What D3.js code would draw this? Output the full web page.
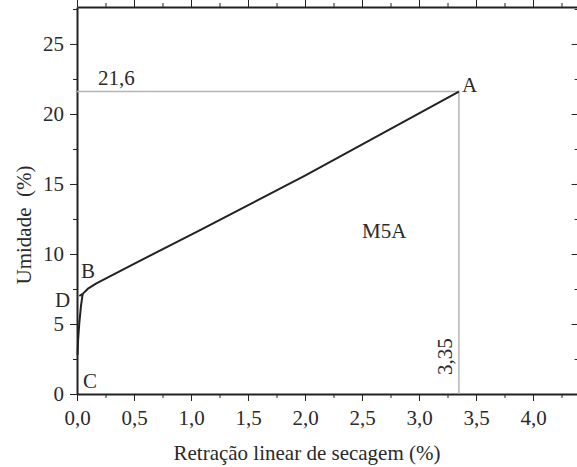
<!DOCTYPE html>
<html>
<head>
<meta charset="utf-8">
<script src="https://cdn.jsdelivr.net/npm/d3@7"></script>
<style>
  body { margin: 0; background: #fff; }
  svg text { font-family: "Liberation Serif", "Times New Roman", Times, "DejaVu Serif", serif; fill: #2a2a2a; }
  .axis path, .axis line { stroke: #222; }
</style>
</head>
<body>
<svg id="chart" width="577" height="467"></svg>
<script>
// curve data (retração %, umidade %)
var mainCurve = [[0.05, 7.15], [0.10, 7.55], [0.17, 7.9], [0.5, 9.3], [1.08, 11.7], [2.0, 15.6], [3.35, 21.6]];
var lowerCurve = [[0.005, 2.8], [0.01, 3.9], [0.02, 5.05], [0.035, 6.3], [0.05, 7.15]];
var dTail = [[0.02, 7.0], [0.05, 7.15]];
var xTicks = [0, 0.5, 1.0, 1.5, 2.0, 2.5, 3.0, 3.5, 4.0];
var yTicks = [0, 5, 10, 15, 20, 25];
var pointA = [3.35, 21.6];
var pointLabels = [
  { t: "A", x: 3.377, y: 21.57 },
  { t: "B", x: 0.035, y: 8.29 },
  { t: "D", x: -0.193, y: 6.21 },
  { t: "C", x: 0.053, y: 0.43 },
  { t: "M5A", x: 2.5, y: 11.14 }
];

var svg = d3.select("#chart");
var margin = { top: 7, left: 77, bottom: 73 };
var width = 577, height = 467;
var fs = 21;

var xScale = d3.scaleLinear().domain([0, 4.4]).range([margin.left, margin.left + 4.4 * 114]);
var yScale = d3.scaleLinear().domain([0, 27.64]).range([height - margin.bottom, margin.top]);

var fmt = function (d) { return d3.format(".1f")(d).replace(".", ","); };
var xMinor = d3.range(0.25, 4.4, 0.5);
var yMinor = d3.range(2.5, 27.6, 5);

var y0 = yScale(0), yTop = yScale(27.64), x0 = xScale(0), xRight = xScale(4.4);

// bottom axis
svg.append("g").attr("class", "axis")
  .attr("transform", "translate(0," + y0 + ")")
  .call(d3.axisBottom(xScale).tickValues(xTicks).tickSize(7).tickSizeOuter(0).tickPadding(9).tickFormat(fmt))
  .call(g => g.selectAll("text").attr("font-size", fs))
  .call(g => g.select(".domain").attr("stroke-width", 2));
svg.append("g").attr("class", "axis")
  .attr("transform", "translate(0," + y0 + ")")
  .call(d3.axisBottom(xScale).tickValues(xMinor).tickSize(4).tickFormat(""))
  .call(g => g.select(".domain").remove());

// top axis (inward)
svg.append("g").attr("class", "axis")
  .attr("transform", "translate(0," + yTop + ")")
  .call(d3.axisBottom(xScale).tickValues(xTicks).tickSize(-7).tickSizeOuter(0).tickFormat(""))
  .call(g => g.select(".domain").attr("stroke-width", 2));
svg.append("g").attr("class", "axis")
  .attr("transform", "translate(0," + yTop + ")")
  .call(d3.axisBottom(xScale).tickValues(xMinor).tickSize(-4).tickFormat(""))
  .call(g => g.select(".domain").remove());

// left axis
svg.append("g").attr("class", "axis")
  .attr("transform", "translate(" + x0 + ",0)")
  .call(d3.axisLeft(yScale).tickValues(yTicks).tickSize(7).tickSizeOuter(0).tickPadding(6))
  .call(g => g.selectAll("text").attr("font-size", fs))
  .call(g => g.select(".domain").attr("stroke-width", 2));
svg.append("g").attr("class", "axis")
  .attr("transform", "translate(" + x0 + ",0)")
  .call(d3.axisLeft(yScale).tickValues(yMinor).tickSize(4).tickFormat(""))
  .call(g => g.select(".domain").remove());

// right axis (inward)
svg.append("g").attr("class", "axis")
  .attr("transform", "translate(" + xRight + ",0)")
  .call(d3.axisLeft(yScale).tickValues(yTicks).tickSize(7).tickSizeOuter(0).tickFormat(""))
  .call(g => g.select(".domain").attr("stroke-width", 2));
svg.append("g").attr("class", "axis")
  .attr("transform", "translate(" + xRight + ",0)")
  .call(d3.axisLeft(yScale).tickValues(yMinor).tickSize(4).tickFormat(""))
  .call(g => g.select(".domain").remove());

// guide lines to point A
svg.append("path")
  .datum([[0, pointA[1]], pointA, [pointA[0], 0]])
  .attr("fill", "none").attr("stroke", "#b5b5b5").attr("stroke-width", 1.5)
  .attr("d", d3.line().x(d => xScale(d[0])).y(d => yScale(d[1])));

// curves
var line = d3.line().x(d => xScale(d[0])).y(d => yScale(d[1]));
[mainCurve, lowerCurve, dTail].forEach(function (c) {
  svg.append("path").datum(c)
    .attr("fill", "none").attr("stroke", "#222").attr("stroke-width", 2)
    .attr("stroke-linejoin", "round")
    .attr("d", line);
});

// point labels
svg.selectAll(".plabel").data(pointLabels).enter().append("text")
  .attr("class", "plabel")
  .attr("x", d => xScale(d.x)).attr("y", d => yScale(d.y))
  .attr("font-size", fs)
  .text(d => d.t);

// value labels
svg.append("text")
  .attr("x", xScale(0.184)).attr("y", yScale(22.07))
  .attr("font-size", fs).text("21,6");
svg.append("text")
  .attr("transform", "translate(" + xScale(3.29) + "," + yScale(1.36) + ") rotate(-90)")
  .attr("font-size", fs).text("3,35");

// axis titles
svg.append("text")
  .attr("x", 307).attr("y", 460)
  .attr("text-anchor", "middle").attr("font-size", fs)
  .text("Retração linear de secagem (%)");
svg.append("text")
  .attr("transform", "translate(31,225) rotate(-90)")
  .attr("text-anchor", "middle").attr("font-size", fs)
  .style("white-space", "pre")
  .text("Umidade  (%)");
</script>
</body>
</html>
